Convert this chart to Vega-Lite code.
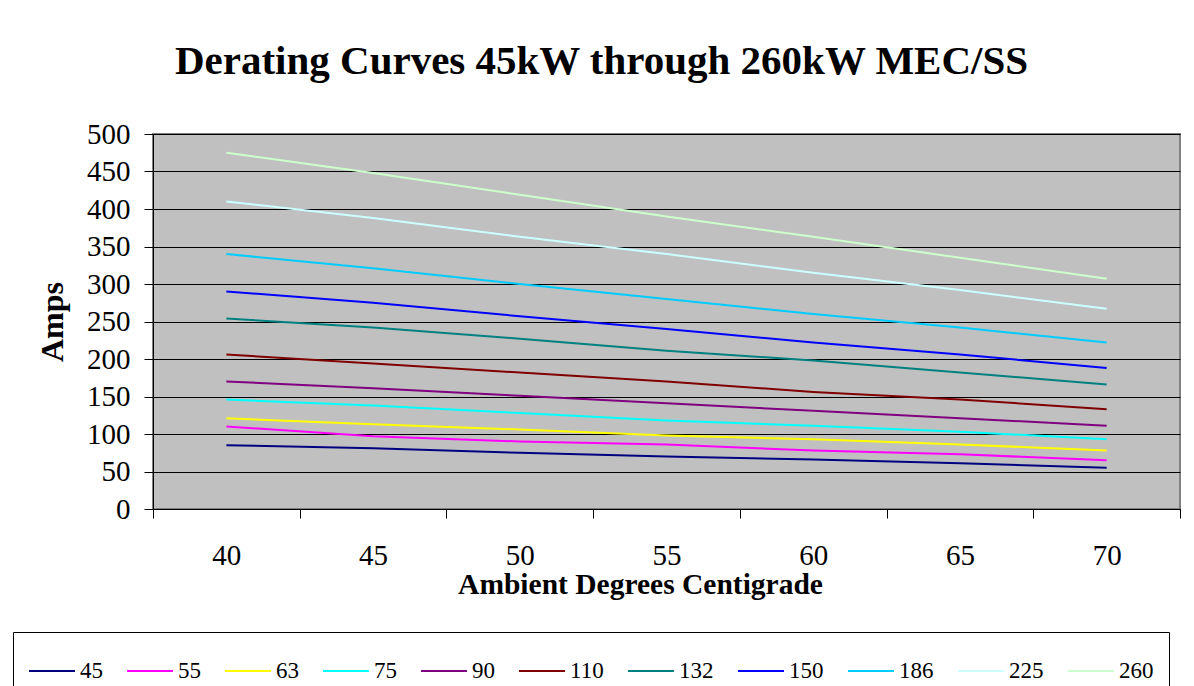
{
  "$schema": "https://vega.github.io/schema/vega-lite/v6.json",
  "autosize": "none",
  "width": 1027,
  "height": 375,
  "padding": {"left": 153, "top": 134, "right": 14, "bottom": 177},
  "background": "white",
  "title": {
    "text": "Derating Curves 45kW through 260kW MEC/SS",
    "font": "Liberation Serif",
    "fontSize": 41,
    "fontWeight": "bold",
    "color": "black",
    "anchor": "middle",
    "dx": -65,
    "offset": 37
  },
  "datasets": {
    "curves": [
      {"kw": "45", "temp": 40, "amps": 85}, {"kw": "45", "temp": 45, "amps": 81}, {"kw": "45", "temp": 50, "amps": 75}, {"kw": "45", "temp": 55, "amps": 70}, {"kw": "45", "temp": 60, "amps": 66}, {"kw": "45", "temp": 65, "amps": 61}, {"kw": "45", "temp": 70, "amps": 55},
      {"kw": "55", "temp": 40, "amps": 110}, {"kw": "55", "temp": 45, "amps": 97}, {"kw": "55", "temp": 50, "amps": 90}, {"kw": "55", "temp": 55, "amps": 86}, {"kw": "55", "temp": 60, "amps": 78}, {"kw": "55", "temp": 65, "amps": 73}, {"kw": "55", "temp": 70, "amps": 65},
      {"kw": "63", "temp": 40, "amps": 121}, {"kw": "63", "temp": 45, "amps": 113}, {"kw": "63", "temp": 50, "amps": 106}, {"kw": "63", "temp": 55, "amps": 98}, {"kw": "63", "temp": 60, "amps": 93}, {"kw": "63", "temp": 65, "amps": 86}, {"kw": "63", "temp": 70, "amps": 78},
      {"kw": "75", "temp": 40, "amps": 146}, {"kw": "75", "temp": 45, "amps": 138}, {"kw": "75", "temp": 50, "amps": 128}, {"kw": "75", "temp": 55, "amps": 118}, {"kw": "75", "temp": 60, "amps": 111}, {"kw": "75", "temp": 65, "amps": 103}, {"kw": "75", "temp": 70, "amps": 93},
      {"kw": "90", "temp": 40, "amps": 170}, {"kw": "90", "temp": 45, "amps": 161}, {"kw": "90", "temp": 50, "amps": 151}, {"kw": "90", "temp": 55, "amps": 141}, {"kw": "90", "temp": 60, "amps": 131}, {"kw": "90", "temp": 65, "amps": 121}, {"kw": "90", "temp": 70, "amps": 111},
      {"kw": "110", "temp": 40, "amps": 206}, {"kw": "110", "temp": 45, "amps": 194}, {"kw": "110", "temp": 50, "amps": 182}, {"kw": "110", "temp": 55, "amps": 170}, {"kw": "110", "temp": 60, "amps": 156}, {"kw": "110", "temp": 65, "amps": 146}, {"kw": "110", "temp": 70, "amps": 133},
      {"kw": "132", "temp": 40, "amps": 254}, {"kw": "132", "temp": 45, "amps": 242}, {"kw": "132", "temp": 50, "amps": 227}, {"kw": "132", "temp": 55, "amps": 211}, {"kw": "132", "temp": 60, "amps": 198}, {"kw": "132", "temp": 65, "amps": 182}, {"kw": "132", "temp": 70, "amps": 166},
      {"kw": "150", "temp": 40, "amps": 290}, {"kw": "150", "temp": 45, "amps": 275}, {"kw": "150", "temp": 50, "amps": 257}, {"kw": "150", "temp": 55, "amps": 240}, {"kw": "150", "temp": 60, "amps": 222}, {"kw": "150", "temp": 65, "amps": 206}, {"kw": "150", "temp": 70, "amps": 188},
      {"kw": "186", "temp": 40, "amps": 340}, {"kw": "186", "temp": 45, "amps": 321}, {"kw": "186", "temp": 50, "amps": 300}, {"kw": "186", "temp": 55, "amps": 280}, {"kw": "186", "temp": 60, "amps": 260}, {"kw": "186", "temp": 65, "amps": 242}, {"kw": "186", "temp": 70, "amps": 222},
      {"kw": "225", "temp": 40, "amps": 410}, {"kw": "225", "temp": 45, "amps": 388}, {"kw": "225", "temp": 50, "amps": 363}, {"kw": "225", "temp": 55, "amps": 340}, {"kw": "225", "temp": 60, "amps": 315}, {"kw": "225", "temp": 65, "amps": 292}, {"kw": "225", "temp": 70, "amps": 267},
      {"kw": "260", "temp": 40, "amps": 475}, {"kw": "260", "temp": 45, "amps": 448}, {"kw": "260", "temp": 50, "amps": 419}, {"kw": "260", "temp": 55, "amps": 390}, {"kw": "260", "temp": 60, "amps": 363}, {"kw": "260", "temp": 65, "amps": 335}, {"kw": "260", "temp": 70, "amps": 307}
    ]
  },
  "data": {"name": "curves"},
  "mark": {"type": "line", "strokeWidth": 2},
  "encoding": {
    "x": {
      "field": "temp",
      "type": "ordinal",
      "scale": {"type": "band", "paddingInner": 0, "paddingOuter": 0},
      "axis": {
        "title": "Ambient Degrees Centigrade",
        "titleFont": "Liberation Serif",
        "titleFontSize": 29.5,
        "titleFontWeight": "bold",
        "titleColor": "black",
        "titlePadding": 0,
        "titleX": 487,
        "labelAngle": 0,
        "labelFont": "Liberation Serif",
        "labelFontSize": 29,
        "labelColor": "black",
        "labelPadding": 23,
        "tickBand": "extent",
        "tickSize": 9,
        "tickColor": "black",
        "domainColor": "black",
        "grid": false
      }
    },
    "y": {
      "field": "amps",
      "type": "quantitative",
      "scale": {"domain": [0, 500], "nice": false},
      "axis": {
        "title": "Amps",
        "titleFont": "Liberation Serif",
        "titleFontSize": 32,
        "titleFontWeight": "bold",
        "titleColor": "black",
        "titlePadding": 17,
        "values": [0, 50, 100, 150, 200, 250, 300, 350, 400, 450, 500],
        "labelFont": "Liberation Serif",
        "labelFontSize": 29,
        "labelColor": "black",
        "labelPadding": 14,
        "tickSize": 9,
        "tickColor": "black",
        "domainColor": "black",
        "grid": true,
        "gridColor": "black",
        "gridOpacity": 1
      }
    },
    "color": {
      "field": "kw",
      "type": "nominal",
      "scale": {
        "domain": ["45", "55", "63", "75", "90", "110", "132", "150", "186", "225", "260"],
        "range": ["#000080", "#FF00FF", "#FFFF00", "#00FFFF", "#800080", "#800000", "#008080", "#0000FF", "#00CCFF", "#CCFFFF", "#CCFFCC"]
      },
      "legend": {
        "title": null,
        "orient": "none",
        "legendX": -140,
        "legendY": 498,
        "direction": "horizontal",
        "columns": 11,
        "symbolType": "stroke",
        "symbolSize": 2116,
        "symbolStrokeWidth": 2,
        "labelFont": "Liberation Serif",
        "labelFontSize": 23,
        "labelColor": "black",
        "labelOffset": 4,
        "columnPadding": 20,
        "padding": 15,
        "strokeColor": "black",
        "fillColor": "white",
        "cornerRadius": 0
      }
    }
  },
  "config": {
    "view": {"fill": "#C0C0C0", "stroke": "#808080", "strokeWidth": 2}
  }
}
